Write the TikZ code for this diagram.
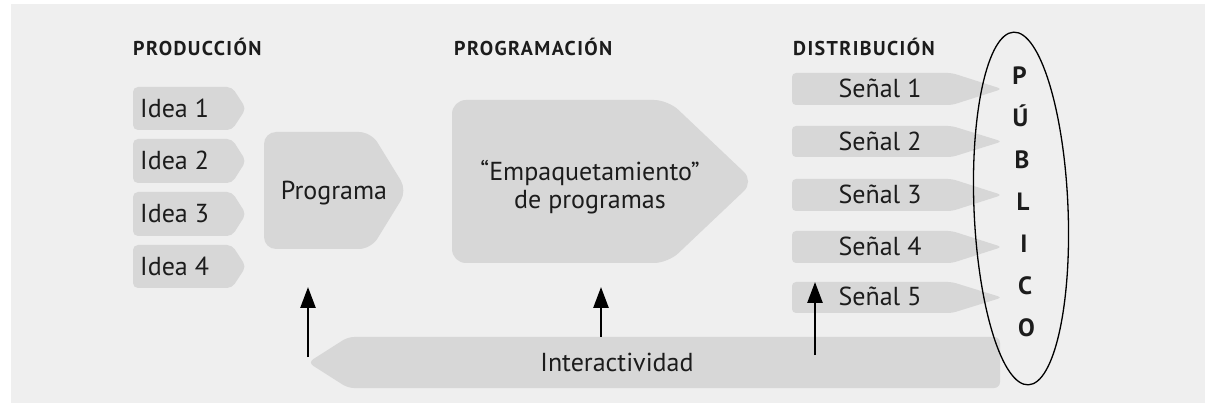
\documentclass[tikz,border=0pt]{standalone}
\usepackage{fontspec}
\setmainfont{PT Sans}
\usetikzlibrary{arrows.meta,shapes.geometric}
\definecolor{bgc}{HTML}{EFEFEF}
\definecolor{boxc}{HTML}{D7D7D7}
\definecolor{ink}{HTML}{1C1C1C}
% right-pointing tag: x1 y1 x2(tip) y2 tiplen radius
\newcommand\tagright[6]{%
  \fill[boxc,rounded corners=#6] (#1,#2) -- ({#3-#5},#2) -- (#3,{(#2+#4)/2}) -- ({#3-#5},#4) -- (#1,#4) -- cycle;}
% left-pointing tag: x1(tip) y1 x2 y2 tiplen radius
\newcommand\tagleft[6]{%
  \fill[boxc,rounded corners=#6] (#3,#2) -- ({#1+#5},#2) -- (#1,{(#2+#4)/2}) -- ({#1+#5},#4) -- (#3,#4) -- cycle;}
\tikzset{
  body/.style={text=ink,inner sep=0pt,font=\fontsize{26}{28}\selectfont},
  head/.style={text=ink,inner sep=0pt,anchor=base west,font=\fontsize{20}{22}\selectfont\bfseries\addfontfeature{LetterSpace=7}},
  pub/.style={text=ink,inner sep=0pt,anchor=base,font=\fontsize{25}{26}\selectfont\bfseries},
  uparrow/.style={draw=black,line width=2.6pt,-{Triangle[width=15pt,length=21pt]}}
}
\begin{document}
\begin{tikzpicture}[x=1pt,y=-1pt]
\useasboundingbox (0,0) rectangle (1205,403);
\fill[bgc] (11,4) rectangle (1205,403);

% headers
\node[head] (hprod) at (133,56) {PRODUCCIÓN};
\node[head] (hprog) at (454,56) {PROGRAMACIÓN};
\node[head] (hdist) at (793,56) {DISTRIBUCIÓN};

% ideas
\tagright{133}{87}{246}{130}{14}{5}
\tagright{133}{139}{246}{183}{14}{5}
\tagright{133}{192}{246}{236}{14}{5}
\tagright{133}{245}{246}{288}{14}{5}
\node[body,anchor=base west] (idea1) at (140,117.5) {Idea 1};
\node[body,anchor=base west] (idea2) at (140,170) {Idea 2};
\node[body,anchor=base west] (idea3) at (140,223) {Idea 3};
\node[body,anchor=base west] (idea4) at (140,275.5) {Idea 4};

% programa
\tagright{264}{132}{407}{249}{36}{12}
\node[body,anchor=base] (programa) at (334,200) {Programa};

% empaquetamiento
\tagright{452}{100}{754}{263}{86}{14}
\node[body,align=center] (empaq) at (590,187) {“Empaquetamiento”\\de programas};

% senales
\tagright{792}{73}{1002}{105}{50}{4}
\tagright{792}{126}{1002}{157}{50}{4}
\tagright{792}{179}{1002}{211}{50}{4}
\tagright{792}{231}{1002}{263}{50}{4}
\tagright{792}{282}{1002}{313}{50}{4}
\node[body,anchor=base] (s1) at (880,98) {Señal 1};
\node[body,anchor=base] (s2) at (880,151) {Señal 2};
\node[body,anchor=base] (s3) at (880,204) {Señal 3};
\node[body,anchor=base] (s4) at (880,256) {Señal 4};
\node[body,anchor=base] (s5) at (880,306) {Señal 5};

% interactividad
\tagleft{308}{337}{1000}{388}{40}{6}
\node[body,anchor=base] (inter) at (617,371) {Interactividad};

% publico
\node[draw=black,line width=1.3pt,ellipse,minimum width=94pt,minimum height=353pt,inner sep=0pt,rotate=2.4] (publico) at (1021,208.5) {};
\node[pub] (pP) at (1019.5,85) {P};
\node[pub] (pU) at (1020.5,127) {Ú};
\node[pub] (pB) at (1022,169) {B};
\node[pub] (pL) at (1023,211) {L};
\node[pub] (pI) at (1024,253) {I};
\node[pub] (pC) at (1025,295) {C};
\node[pub] (pO) at (1026.5,337) {O};

% interaction arrows
\coordinate (a1s) at (308,357);
\coordinate (a1e) at (308,287);
\coordinate (a2s) at (601,337);
\coordinate (a2e) at (601,287);
\coordinate (a3s) at (815,355);
\coordinate (a3e) at (815,282);
\draw[uparrow] (a1s) -- (a1e);
\draw[uparrow] (a2s) -- (a2e);
\draw[uparrow] (a3s) -- (a3e);
\end{tikzpicture}
\end{document}
